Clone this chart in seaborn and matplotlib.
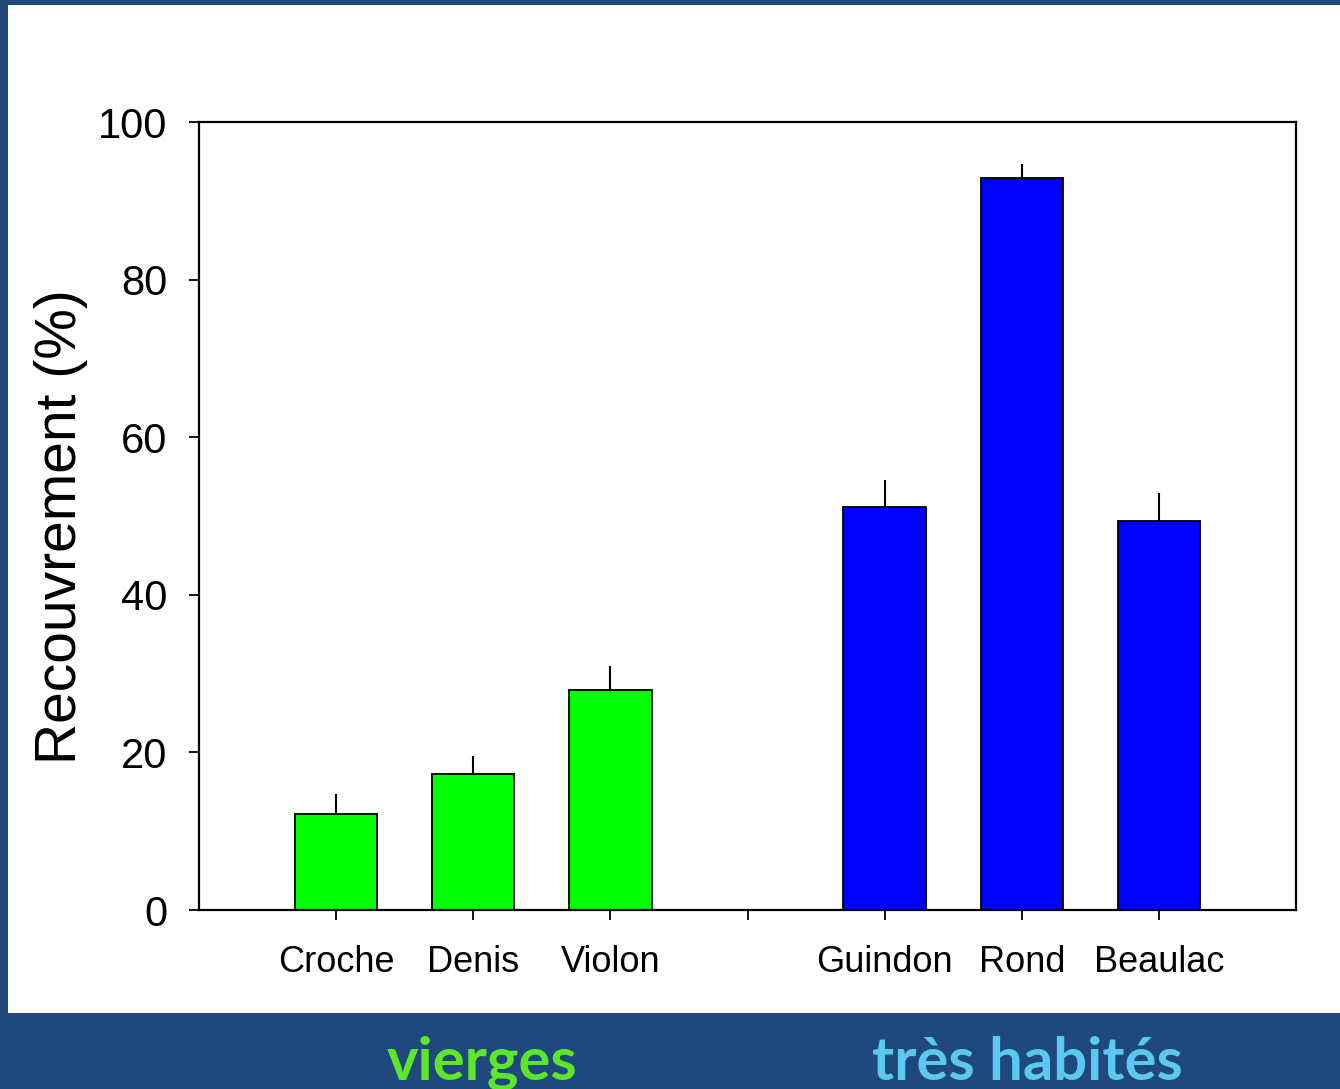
import numpy as np
import pandas as pd
import matplotlib
matplotlib.use("Agg")
import matplotlib.pyplot as plt
from matplotlib.patches import Rectangle
import seaborn as sns

# Lakes, grouped as pristine (vierges) vs heavily settled (très habités)
lakes = ["Croche", "Denis", "Violon", "Guindon", "Rond", "Beaulac"]
groups = ["vierges", "vierges", "vierges", "très habités", "très habités", "très habités"]
recouvrement = [12.2, 17.3, 27.9, 51.1, 92.9, 49.4]
erreur = [2.5, 2.3, 3.1, 3.5, 1.8, 3.5]
order = ["Croche", "Denis", "Violon", "", "Guindon", "Rond", "Beaulac"]
y_ticks = [0, 20, 40, 60, 80, 100]

group_colors = {"vierges": "#00ff00", "très habités": "#0000ff"}
label_colors = {"vierges": "#5ee62b", "très habités": "#5bc8f0"}

df = pd.DataFrame({"lac": lakes, "groupe": groups, "recouvrement": recouvrement})
palette = {lac: group_colors[g] for lac, g in zip(lakes, groups)}

sns.set_style("ticks")
plt.rcParams["font.family"] = ["Liberation Sans", "DejaVu Sans"]
plt.rcParams["text.color"] = "black"
plt.rcParams["axes.labelcolor"] = "black"
plt.rcParams["xtick.color"] = "black"
plt.rcParams["ytick.color"] = "black"

W, H = 1340, 1089
fig = plt.figure(figsize=(W / 100, H / 100), dpi=100, facecolor="#1f497d")

# white slide panel inside the blue frame
fig.patches.append(Rectangle((8 / W, (H - 1013) / H), 1 - 8 / W, (1013 - 5) / H,
                             transform=fig.transFigure, facecolor="white",
                             edgecolor="none", zorder=-10))

ax = fig.add_axes([199 / W, (H - 910) / H, (1296 - 199) / W, (910 - 122) / H])
ax.set_facecolor("white")

sns.barplot(data=df, x="lac", y="recouvrement", hue="lac", order=order,
            palette=palette, legend=False, width=0.6, errorbar=None,
            edgecolor="black", linewidth=1.3, saturation=1, ax=ax)

# upward-only error bars, no caps
pos = [order.index(l) for l in lakes]
ax.errorbar(pos, recouvrement, yerr=[np.zeros(len(erreur)), erreur], fmt="none",
            ecolor="black", elinewidth=1.5, capsize=0, zorder=1)

ax.set_xlim(-1, 7)
ax.set_ylim(0, 100)
ax.set_yticks(y_ticks)
ax.set_xlabel("")
ax.set_ylabel("Recouvrement (%)", fontsize=41, color="black")
ax.yaxis.set_label_coords(-0.101, 0.487)

for s in ax.spines.values():
    s.set_visible(True)
    s.set_color("black")
    s.set_linewidth(1.6)

ax.tick_params(axis="y", direction="out", length=7, width=1.3, labelsize=30, pad=16,
               colors="black")
ax.tick_params(axis="x", direction="out", length=7, width=1.3, labelsize=26, pad=18,
               colors="black")

# group captions in the bottom band
fig.text(482 / W, (H - 1080) / H, "vierges", ha="center", va="baseline",
         fontsize=43, fontweight="bold", family="Lato", color=label_colors["vierges"])
fig.text(1027 / W, (H - 1080) / H, "très habités", ha="center", va="baseline",
         fontsize=43, fontweight="bold", family="Lato", color=label_colors["très habités"])

fig.savefig("out.png", dpi=100, facecolor=fig.get_facecolor())
